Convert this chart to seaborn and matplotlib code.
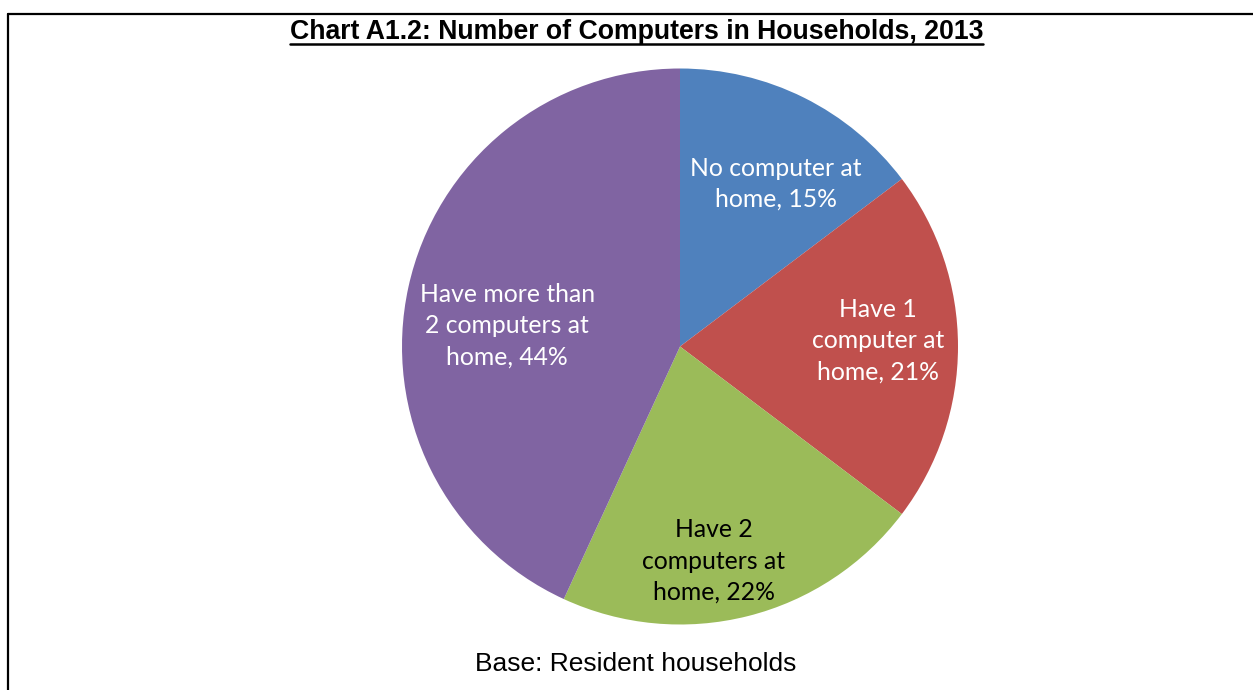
import matplotlib
matplotlib.use("Agg")
import matplotlib.pyplot as plt
from matplotlib.lines import Line2D
import seaborn as sns

# Household computer ownership, 2013 (share of resident households, %)
categories = [
    "No computer at\nhome, 15%",
    "Have 1\ncomputer at\nhome, 21%",
    "Have 2\ncomputers at\nhome, 22%",
    "Have more than\n2 computers at\nhome, 44%",
]
shares = [15, 21, 22, 44]
slice_colors = ["#4F81BD", "#C0504D", "#9BBB59", "#8064A2"]
label_colors = ["white", "white", "black", "white"]

title_text = "Chart A1.2: Number of Computers in Households, 2013"
footer_text = "Base: Resident households"

sns.set_theme(style="white")
plt.rcParams["font.family"] = ["Liberation Sans", "DejaVu Sans"]

W, H, DPI = 1253, 690, 100
fig = plt.figure(figsize=(W / DPI, H / DPI), dpi=DPI)
fig.patch.set_facecolor("white")

# Pie axes: square region centred on the chart body
cx, cy, r = 680, 346.5, 278
ax = fig.add_axes([(cx - r) / W, (H - cy - r) / H, 2 * r / W, 2 * r / H])
wedges, _ = ax.pie(
    shares,
    colors=slice_colors,
    startangle=90,
    counterclock=False,
    radius=1.0,
    wedgeprops=dict(linewidth=0),
)
ax.set_xlim(-1, 1)
ax.set_ylim(-1, 1)
ax.axis("off")

# In-slice data labels (offsets in pie-radius units)
label_pos = [(0.345, 0.585), (0.712, 0.02), (0.122, -0.772), (-0.622, 0.074)]
for text, (x, y), col in zip(categories, label_pos, label_colors):
    ax.text(x, y, text, ha="center", va="center", color=col,
            fontsize=17.8, family=["Lato", "DejaVu Sans"], linespacing=1.43)

# Frame around the chart (top and left edges visible)
fig.add_artist(Line2D([8 / W, 1.0], [1 - 13.5 / H, 1 - 13.5 / H],
                      transform=fig.transFigure, color="black", lw=1.6))
fig.add_artist(Line2D([8 / W, 8 / W], [0.0, 1 - 13.5 / H],
                      transform=fig.transFigure, color="black", lw=1.6))

# Underlined bold title
t = fig.text(636.5 / W, 1 - 32 / H, title_text, ha="center", va="center",
             fontsize=19.2, fontweight="bold", color="black")
fig.canvas.draw()
bb = t.get_window_extent(renderer=fig.canvas.get_renderer())
uy = (bb.y0 + 1) / H
fig.add_artist(Line2D([bb.x0 / W, bb.x1 / W], [uy, uy],
                      transform=fig.transFigure, color="black", lw=1.8))

fig.text(636 / W, 1 - 664 / H, footer_text, ha="center", va="center",
         fontsize=19, color="black")

fig.savefig("out.png", dpi=DPI, facecolor="white")
